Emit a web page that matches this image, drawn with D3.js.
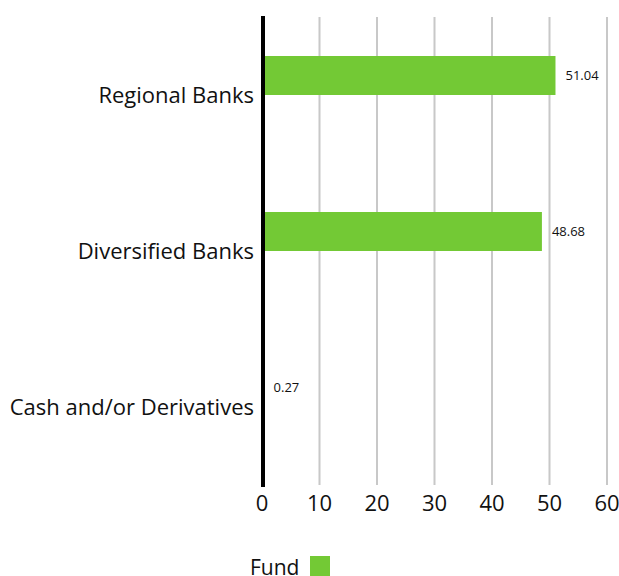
<!DOCTYPE html>
<html>
<head>
<meta charset="utf-8">
<script src="https://cdn.jsdelivr.net/npm/d3@7"></script>
<style>
  body { margin: 0; background: #fff; }
  text { font-family: "Open Sans", sans-serif; fill: #111; }
</style>
</head>
<body>
<div id="chart-area"></div>
<script>
// data
var categories = ["Regional Banks", "Diversified Banks", "Cash and/or Derivatives"];
var fundValues = [51.04, 48.68, 0.27];
var seriesNames = ["Fund", "Benchmark"]; // benchmark slot stays empty
var xTicks = [0, 10, 20, 30, 40, 50, 60];

var margin = {left: 262, right: 12, top: 17, bottom: 91};
var width = 619 - margin.left - margin.right;
var height = 576 - margin.top - margin.bottom;

var svg = d3.select("#chart-area").append("svg")
    .attr("width", 619)
    .attr("height", 576);

var g = svg.append("g")
    .attr("transform", "translate(" + margin.left + ", " + margin.top + ")");

// X scale
var x = d3.scaleLinear()
  .domain([0, 60])
  .range([0, 345]);

// Y scale
var y = d3.scaleBand()
  .domain(categories)
  .range([0, height]);

var ySub = d3.scaleBand()
  .domain(seriesNames)
  .range([0, y.bandwidth()])
  .paddingInner(0)
  .paddingOuter(1);

// grid lines
g.selectAll(".grid")
  .data(xTicks.slice(1))
  .enter().append("line")
    .attr("class", "grid")
    .attr("x1", d => x(d))
    .attr("x2", d => x(d))
    .attr("y1", 0)
    .attr("y2", height)
    .attr("stroke", "#c8c8c8")
    .attr("stroke-width", 2);

// X tick labels
g.selectAll(".xtick")
  .data(xTicks)
  .enter().append("text")
    .attr("class", "xtick")
    .attr("x", d => x(d))
    .attr("y", height + 26)
    .attr("text-anchor", "middle")
    .attr("font-size", "22px")
    .text(d => d);

// bars
g.selectAll(".bar")
  .data(fundValues)
  .enter().append("rect")
    .attr("class", "bar")
    .attr("x", x(0))
    .attr("y", (d, i) => y(categories[i]) + ySub("Fund"))
    .attr("width", d => x(d) - x(0))
    .attr("height", ySub.bandwidth())
    .attr("fill", "#73c935");

// value labels
g.selectAll(".val")
  .data(fundValues)
  .enter().append("text")
    .attr("class", "val")
    .attr("x", d => x(d) + 10)
    .attr("y", (d, i) => y(categories[i]) + ySub("Fund") + ySub.bandwidth() / 2)
    .attr("dy", "0.35em")
    .attr("font-size", "13px")
    .text(d => d.toFixed(2));

// category labels
g.selectAll(".cat")
  .data(categories)
  .enter().append("text")
    .attr("class", "cat")
    .attr("x", -8)
    .attr("y", d => y(d) + y.bandwidth() / 2)
    .attr("dy", "0.35em")
    .attr("text-anchor", "end")
    .attr("font-size", "22px")
    .text(d => d);

// zero axis line
g.append("line")
  .attr("x1", x(0) + 1)
  .attr("x2", x(0) + 1)
  .attr("y1", -1)
  .attr("y2", height + 2)
  .attr("stroke", "#000")
  .attr("stroke-width", 4);

// legend
var legend = svg.append("g")
  .attr("transform", "translate(250, 556)");

legend.append("text")
  .attr("x", 0)
  .attr("y", 12)
  .attr("dy", "0.35em")
  .attr("font-size", "21px")
  .text(seriesNames[0]);

legend.append("rect")
  .attr("x", 60)
  .attr("y", 0)
  .attr("width", 20)
  .attr("height", 20)
  .attr("fill", "#73c935");
</script>
</body>
</html>
